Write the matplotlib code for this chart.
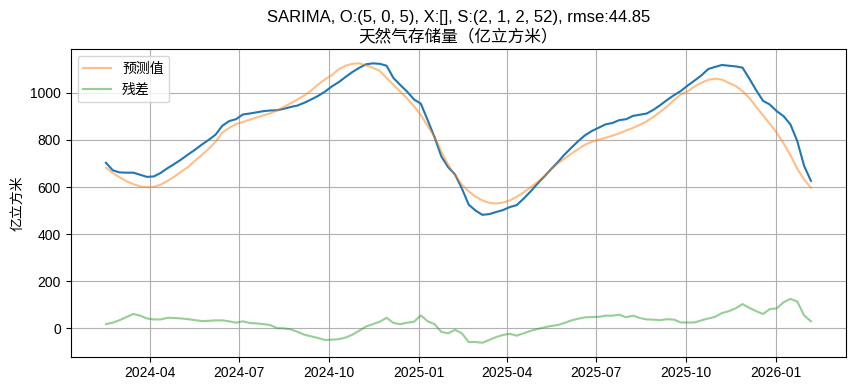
import matplotlib
matplotlib.use("Agg")
import matplotlib.pyplot as plt
import pandas as pd

plt.rcParams['font.family'] = ['Liberation Sans', 'Noto Sans CJK SC', 'DejaVu Sans']
plt.rcParams['axes.unicode_minus'] = False

start_date = '2024-02-16'
n_weeks = 104

actual = [703, 671, 662, 661, 661, 652, 643, 645, 660, 680,
          698, 717, 738, 758, 780, 800, 822, 860, 880, 888,
          908, 912, 917, 922, 925, 926, 932, 940, 946, 958,
          972, 987, 1005, 1027, 1045, 1067, 1088, 1106, 1121, 1125,
          1123, 1115, 1063, 1033, 1005, 972, 954, 884, 812, 730,
          684, 653, 594, 525, 500, 482, 485, 494, 502, 515,
          523, 550, 580, 613, 643, 675, 705, 738, 767, 795,
          820, 838, 852, 866, 872, 884, 888, 902, 907, 912,
          928, 948, 970, 990, 1008, 1031, 1052, 1074, 1101, 1110,
          1118, 1115, 1112, 1107, 1060, 1011, 966, 950, 922, 901,
          866, 795, 690, 626]

predicted = [682, 660, 641, 625, 612, 603, 599, 601, 610, 626,
             644, 665, 685, 711, 736, 762, 792,
             831, 851, 867, 876, 886, 895, 904, 913, 925, 940,
             956, 972, 989, 1010, 1035, 1057, 1075,
             1100, 1115, 1123, 1125, 1117, 1106, 1093, 1063, 1034, 1005,
             976, 943, 906, 858, 815, 750,
             694, 651, 610, 582, 559, 543, 533, 530, 534, 543,
             558, 577, 598, 620, 645, 674, 700,
             720, 742, 761, 780, 792, 801, 809, 818, 828, 840,
             851, 864, 879, 898, 920, 943, 969, 994,
             1006, 1027, 1043, 1055, 1060, 1056, 1042, 1029, 1007, 978,
             940, 904, 868, 830, 785, 735, 678, 632, 597]

residual = [18, 24, 35, 48, 61, 54, 42, 38, 38, 45,
            44, 42, 39, 35, 31, 32, 34, 34, 30, 24,
            30, 23, 21, 18, 14, 1, 0, -4, -15, -27,
            -34, -41, -49, -48, -46, -39, -27, -10, 8, 18,
            28, 45, 23, 18, 24, 28, 55, 30, 18, -15,
            -21, -6,
            -21, -58, -58, -61, -49, -37, -28, -23, -31, -21,
            -11, -3, 4, 10, 14, 23, 34, 41, 47, 48,
            49, 54, 54, 58, 47, 54, 44, 38, 37, 35,
            39, 37, 25, 25, 25, 34, 42, 49, 65, 73,
            85, 103, 87, 73, 61, 82, 85, 111, 125, 114,
            55, 30]

title_line1 = 'SARIMA, O:(5, 0, 5), X:[], S:(2, 1, 2, 52), rmse:44.85'
title_line2 = '天然气存储量（亿立方米）'
ylabel = '亿立方米'

dates = pd.date_range(start_date, periods=n_weeks, freq='7D')

fig = plt.figure(figsize=(8.55, 3.91), dpi=100)
ax = fig.add_axes([0.0827, 0.0877, 0.907, 0.786])

ax.plot(dates, actual, color='tab:blue', linewidth=1.5)
ax.plot(dates, predicted, color='tab:orange', alpha=0.5, linewidth=1.5, label='预测值')
ax.plot(dates, residual, color='tab:green', alpha=0.5, linewidth=1.5, label='残差')

ax.set_title(title_line1 + '\n' + title_line2, fontsize=12)
ax.set_ylabel(ylabel)
ax.grid(True)
ax.legend(loc='upper left')

fig.savefig('out.png', dpi=100)
